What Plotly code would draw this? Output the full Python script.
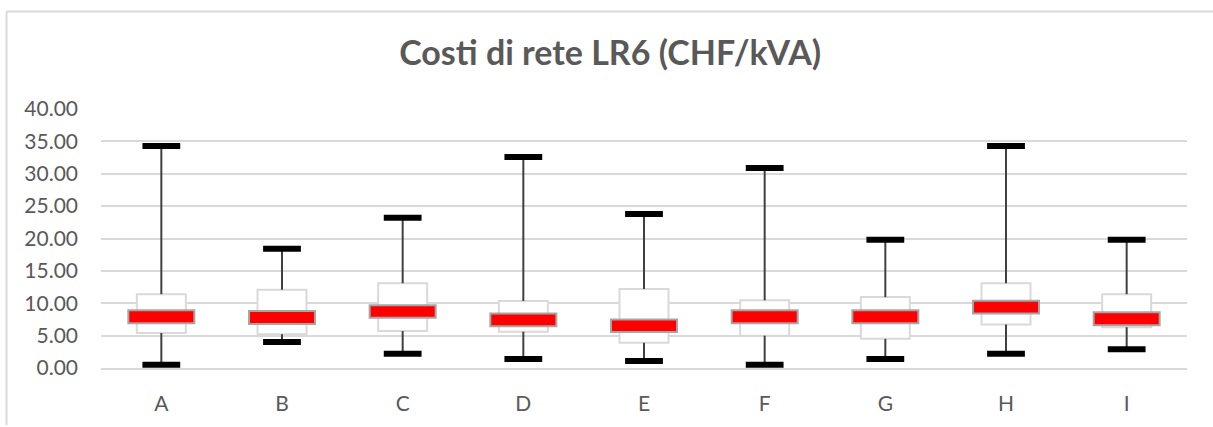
import plotly.graph_objects as go

categories = ["A", "B", "C", "D", "E", "F", "G", "H", "I"]
vmin = [0.5, 4.0, 2.2, 1.4, 1.1, 0.5, 1.4, 2.2, 2.9]
q1 = [5.4, 5.2, 5.7, 5.6, 3.9, 5.0, 4.5, 6.7, 6.3]
red_low = [6.9, 6.8, 7.75, 6.45, 5.55, 6.9, 6.9, 8.4, 6.6]
red_high = [8.9, 8.8, 9.7, 8.4, 7.5, 8.9, 8.9, 10.4, 8.6]
q3 = [11.4, 12.1, 13.1, 10.35, 12.2, 10.45, 10.95, 13.1, 11.4]
vmax = [34.3, 18.4, 23.2, 32.6, 23.8, 30.9, 19.8, 34.3, 19.8]

TXT = "#595959"
GRID = "#d9d9d9"

fig = go.Figure()

# whiskers (two segments per category)
wx, wy = [], []
for c, lo, a, b, hi in zip(categories, vmin, q1, q3, vmax):
    wx += [c, c, None, c, c, None]
    wy += [b, hi, None, lo, a, None]
fig.add_trace(go.Scatter(x=wx, y=wy, mode="lines",
                         line=dict(color="#404040", width=2),
                         hoverinfo="skip", showlegend=False))

# interquartile box
fig.add_trace(go.Bar(x=categories, y=[b - a for a, b in zip(q1, q3)], base=q1,
                     width=0.406, marker=dict(color="white", line=dict(color=GRID, width=2)),
                     showlegend=False))

# red centre box
fig.add_trace(go.Bar(x=categories, y=[h - l for l, h in zip(red_low, red_high)], base=red_low,
                     width=0.547, marker=dict(color="#ff0000", line=dict(color="#a6a6a6", width=2)),
                     showlegend=False))

# caps
fig.add_trace(go.Scatter(x=categories + categories, y=vmax + vmin, mode="markers",
                         marker=dict(symbol="line-ew", size=27,
                                     line=dict(color="black", width=6)),
                         hoverinfo="skip", showlegend=False))

fig.update_layout(
    width=1213, height=427,
    margin=dict(l=101, r=26, t=109, b=55),
    paper_bgcolor="white", plot_bgcolor="white",
    barmode="overlay",
    font=dict(family="Lato", size=21, color=TXT),
    title=dict(text="<b>Costi di rete LR6 (CHF/kVA)</b>", x=0.503, xanchor="center",
               y=0.875, yanchor="middle",
               font=dict(family="Lato", size=34, color=TXT)),
    xaxis=dict(type="category", categoryorder="array", categoryarray=categories,
               range=[-0.5, len(categories) - 0.5],
               showgrid=False, showline=True, linecolor=GRID, linewidth=2,
               ticks="", ticklabelstandoff=16, tickfont=dict(size=21, color=TXT)),
    yaxis=dict(range=[0, 40], dtick=5, tick0=0, tickformat=".2f",
               showgrid=True, gridcolor=GRID, gridwidth=2, zeroline=False,
               showline=False, ticks="", ticklabelstandoff=22,
               tickfont=dict(size=21, color=TXT)),
    shapes=[
        dict(type="line", xref="paper", yref="paper",
             x0=(6.5 - 101) / 1086, x1=(6.5 - 101) / 1086,
             y0=(372 - 10) / 263, y1=(372 - 430) / 263,
             line=dict(color=GRID, width=2)),
        dict(type="line", xref="paper", yref="paper",
             x0=(6.5 - 101) / 1086, x1=(1220 - 101) / 1086,
             y0=(372 - 10) / 263, y1=(372 - 10) / 263,
             line=dict(color=GRID, width=2)),
    ],
)

fig.write_html("out.html", config={"displayModeBar": False},
               post_script="document.body.style.margin='0';document.body.style.overflow='hidden';")
